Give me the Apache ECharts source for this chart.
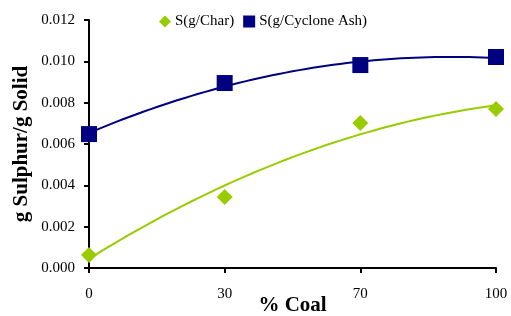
<!DOCTYPE html>
<html>
<head>
<meta charset="utf-8">
<script src="https://cdn.jsdelivr.net/npm/echarts@6/dist/echarts.min.js"></script>
<style>
  html, body { margin: 0; padding: 0; background: #fff; }
  #chart { width: 511px; height: 316px; }
</style>
</head>
<body>
<div id="chart"></div>
<script>
// % coal categories (equally spaced, as in the original line chart)
const coalLabels = ['0', '30', '70', '100'];
const charValues = [0.00063, 0.00344, 0.00702, 0.00769];
const ashValues = [0.00648, 0.00895, 0.00982, 0.01021];
const yTicks = [0, 0.002, 0.004, 0.006, 0.008, 0.010, 0.012];

// 2nd order polynomial trendline (least squares), like the spreadsheet one
function polyFit2(ys) {
  let n = ys.length, sx = 0, sx2 = 0, sx3 = 0, sx4 = 0, sy = 0, sxy = 0, sx2y = 0;
  ys.forEach((y, i) => {
    sx += i; sx2 += i * i; sx3 += i ** 3; sx4 += i ** 4;
    sy += y; sxy += i * y; sx2y += i * i * y;
  });
  // solve 3x3 normal equations with Cramer's rule
  const M = [[n, sx, sx2], [sx, sx2, sx3], [sx2, sx3, sx4]];
  const B = [sy, sxy, sx2y];
  const det = m => m[0][0] * (m[1][1] * m[2][2] - m[1][2] * m[2][1])
    - m[0][1] * (m[1][0] * m[2][2] - m[1][2] * m[2][0])
    + m[0][2] * (m[1][0] * m[2][1] - m[1][1] * m[2][0]);
  const d = det(M);
  const coef = [0, 1, 2].map(k => det(M.map((row, r) => row.map((v, c) => c === k ? B[r] : v))) / d);
  return x => coef[0] + coef[1] * x + coef[2] * x * x;
}
function trend(ys) {
  const f = polyFit2(ys);
  const pts = [];
  for (let i = 0; i <= 60; i++) {
    const x = i * (ys.length - 1) / 60;
    pts.push([x, f(x)]);
  }
  return pts;
}

const chart = echarts.init(document.getElementById('chart'));
const font = 'Liberation Serif';
chart.setOption({
  animation: false,
  textStyle: { fontFamily: font },
  grid: { left: 89, right: 15, top: 20, bottom: 48, containLabel: false, outerBoundsMode: 'none' },
  legend: {
    top: 14,
    left: 159,
    padding: 0,
    itemGap: 9,
    itemWidth: 12,
    itemHeight: 12,
    textStyle: { fontFamily: font, fontSize: 15, color: '#000', padding: [0, 0, 0, -1] },
    data: [
      { name: 'S(g/Char)', icon: 'diamond' },
      { name: 'S(g/Cyclone Ash)', icon: 'rect' }
    ]
  },
  xAxis: {
    type: 'value',
    min: 0,
    max: coalLabels.length - 1,
    interval: 1,
    name: '% Coal',
    nameLocation: 'middle',
    nameGap: 27,
    nameMoveOverlap: false,
    nameTextStyle: { fontFamily: font, fontSize: 21, fontWeight: 'bold', color: '#000' },
    axisLine: { lineStyle: { color: '#000', width: 2 } },
    axisTick: { show: true, inside: false, length: 5, lineStyle: { color: '#000', width: 2 } },
    axisLabel: {
      fontFamily: font, fontSize: 15, color: '#000', margin: 19,
      formatter: v => coalLabels[Math.round(v)]
    },
    splitLine: { show: false }
  },
  yAxis: {
    type: 'value',
    min: yTicks[0],
    max: yTicks[yTicks.length - 1],
    interval: 0.002,
    name: 'g Sulphur/g Solid',
    nameLocation: 'middle',
    nameGap: 57,
    nameMoveOverlap: false,
    nameTextStyle: { fontFamily: font, fontSize: 21, fontWeight: 'bold', color: '#000' },
    axisLine: { show: true, lineStyle: { color: '#000', width: 2 } },
    axisTick: { show: true, inside: false, length: 5, lineStyle: { color: '#000', width: 2 } },
    axisLabel: { fontFamily: font, fontSize: 15, color: '#000', margin: 14, formatter: v => v.toFixed(3) },
    splitLine: { show: false }
  },
  series: [
    {
      name: 'S(g/Char)',
      type: 'scatter',
      symbol: 'diamond',
      symbolSize: 16,
      itemStyle: { color: '#99CC00', opacity: 1 },
      data: charValues.map((v, i) => [i, v]),
      z: 3
    },
    {
      name: 'S(g/Cyclone Ash)',
      type: 'scatter',
      symbol: 'rect',
      symbolSize: 16,
      itemStyle: { color: '#000080', opacity: 1 },
      data: ashValues.map((v, i) => [i, v]),
      z: 3
    },
    {
      name: 'charTrend',
      type: 'line',
      showSymbol: false,
      lineStyle: { color: '#99CC00', width: 2 },
      data: trend(charValues),
      z: 2
    },
    {
      name: 'ashTrend',
      type: 'line',
      showSymbol: false,
      lineStyle: { color: '#000080', width: 2 },
      data: trend(ashValues),
      z: 2
    }
  ]
});
</script>
</body>
</html>
